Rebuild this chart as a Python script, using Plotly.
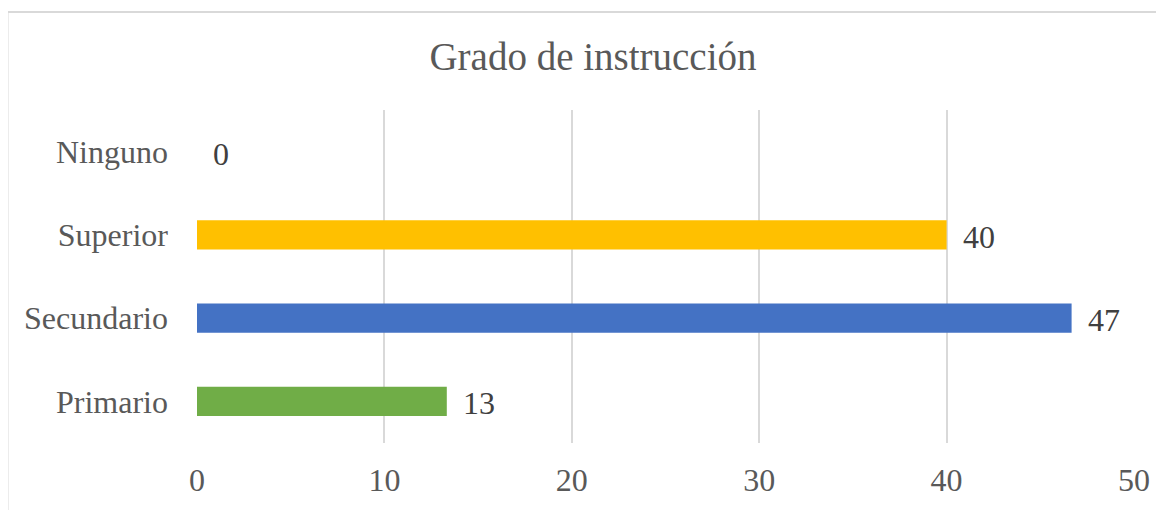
import plotly.graph_objects as go

categories = ["Primario", "Secundario", "Superior", "Ninguno"]
values = [13.33, 46.67, 40.0, 0.0]
labels = ["13", "47", "40", "0"]
colors = ["#70AD47", "#4472C4", "#FFC000", "#5B9BD5"]
x_ticks = [0, 10, 20, 30, 40, 50]

FONT = "Liberation Serif, Times New Roman, serif"
OFF = 8  # page body margin

fig = go.Figure()
fig.add_trace(go.Bar(
    x=values, y=categories, orientation="h",
    marker=dict(color=colors, line=dict(width=0)),
    hoverinfo="skip",
))

for v, c, t in zip(values, categories, labels):
    fig.add_annotation(x=v, y=c, text=t, showarrow=False, xanchor="left",
                       xshift=14, yshift=-2,
                       font=dict(family=FONT, size=32, color="#404040"))

W, H = 1164 - OFF, 510 - OFF
L, R, T, B = 197 - OFF, 1134 - OFF, 110 - OFF, 443 - OFF
pw, ph = R - L, B - T
def px(x): return (x - OFF - L) / pw
def py(y): return (B - (y - OFF)) / ph

line = dict(color="#D9D9D9", width=2)
fig.add_shape(type="line", xref="paper", yref="paper",
              x0=px(7.5), x1=px(7.5), y0=py(12), y1=py(520), line=line)
fig.add_shape(type="line", xref="paper", yref="paper",
              x0=px(7.5), x1=px(1175), y0=py(12), y1=py(12), line=line)

fig.update_layout(
    width=W, height=H,
    margin=dict(l=L, r=W - R, t=T, b=H - B),
    paper_bgcolor="white", plot_bgcolor="white",
    bargap=0.65,
    showlegend=False,
    title=dict(text="Grado de instrucción", x=(593 - OFF) / W, xanchor="center",
               y=1 - (56 - OFF) / H, yanchor="middle", xref="container", yref="container",
               font=dict(family=FONT, size=39, color="#595959")),
    xaxis=dict(range=[0, 50], tickvals=x_ticks, showgrid=True,
               gridcolor="#D9D9D9", gridwidth=1.5, zeroline=False,
               showline=False, ticks="", ticklabelstandoff=15,
               tickfont=dict(family=FONT, size=32, color="#595959"),
               fixedrange=True),
    yaxis=dict(showgrid=False, zeroline=False, showline=False, ticks="",
               ticklabelstandoff=28,
               tickfont=dict(family=FONT, size=32, color="#595959"),
               fixedrange=True),
)

fig.write_html("out.html")
